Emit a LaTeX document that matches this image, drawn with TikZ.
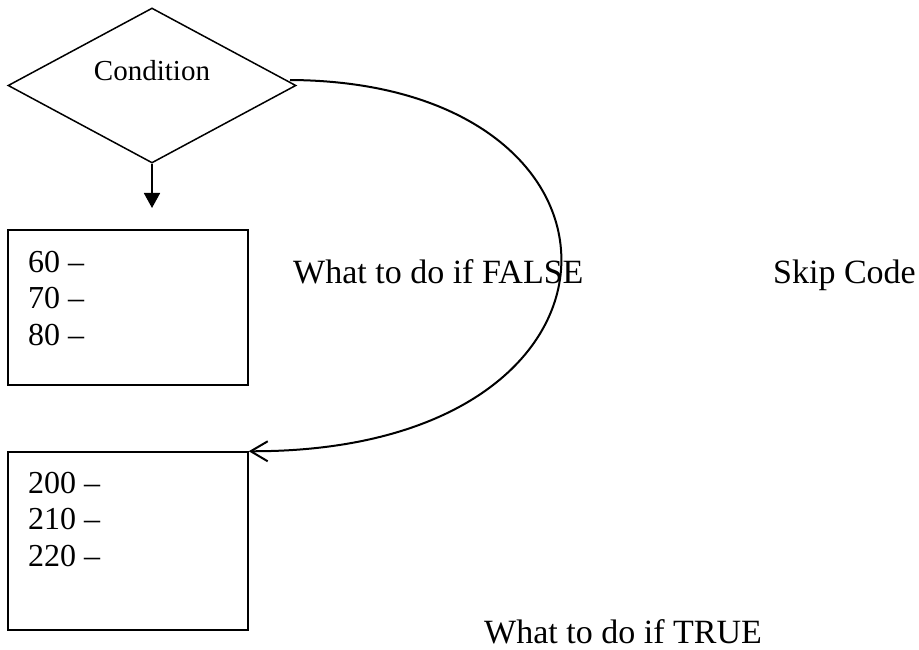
\documentclass[tikz,border=0pt]{standalone}
\usepackage{fontspec}
\setmainfont{Liberation Serif}
\usetikzlibrary{shapes.geometric,arrows.meta}
\begin{document}
\begin{tikzpicture}[x=1pt,y=-1pt,
  thinline/.style={line width=1.5pt},
  codebox/.style={draw,thinline,rectangle,minimum width=240pt,inner sep=0pt},
  lines/.style={anchor=north west,align=left,font=\fontsize{32}{36.5}\selectfont,inner sep=0pt},
  label/.style={font=\fontsize{34}{38}\selectfont,inner sep=0pt,anchor=base west}]
  \useasboundingbox (0,0) rectangle (919,650);
  % decision
  \node[draw,thinline,diamond,minimum width=288pt,minimum height=155pt,inner sep=0pt] (cond) at (152,85.5) {};
  \node[font=\fontsize{29}{33}\selectfont,inner sep=0pt,anchor=base] (condtext) at (152,80.5) {Condition};
  % code blocks
  \node[codebox,minimum height=155pt] (box1) at (128,307.5) {};
  \node[lines] (t1) at (28,251) {60 --\\70 --\\80 --};
  \node[codebox,minimum height=178pt] (box2) at (128,541) {};
  \node[lines] (t2) at (28,472) {200 --\\210 --\\220 --};
  % labels
  \node[label] (falsetxt) at (293,283) {What to do if FALSE};
  \node[label] (skip) at (773,283) {Skip Code};
  \node[label] (truetxt) at (484,643) {What to do if TRUE};
  % connectors
  \coordinate (down) at (152,208);
  \draw[line width=1.8pt,-{Triangle[width=16pt,length=15pt]}] (cond.south) -- (down);
  \coordinate (start) at (290,80);
  \draw[line width=2pt,-{Straight Barb[length=17pt,width=20pt,line width=2pt]}]
    (start) .. controls (658,82) and (658,452) .. (box2.north east);
\end{tikzpicture}
\end{document}
